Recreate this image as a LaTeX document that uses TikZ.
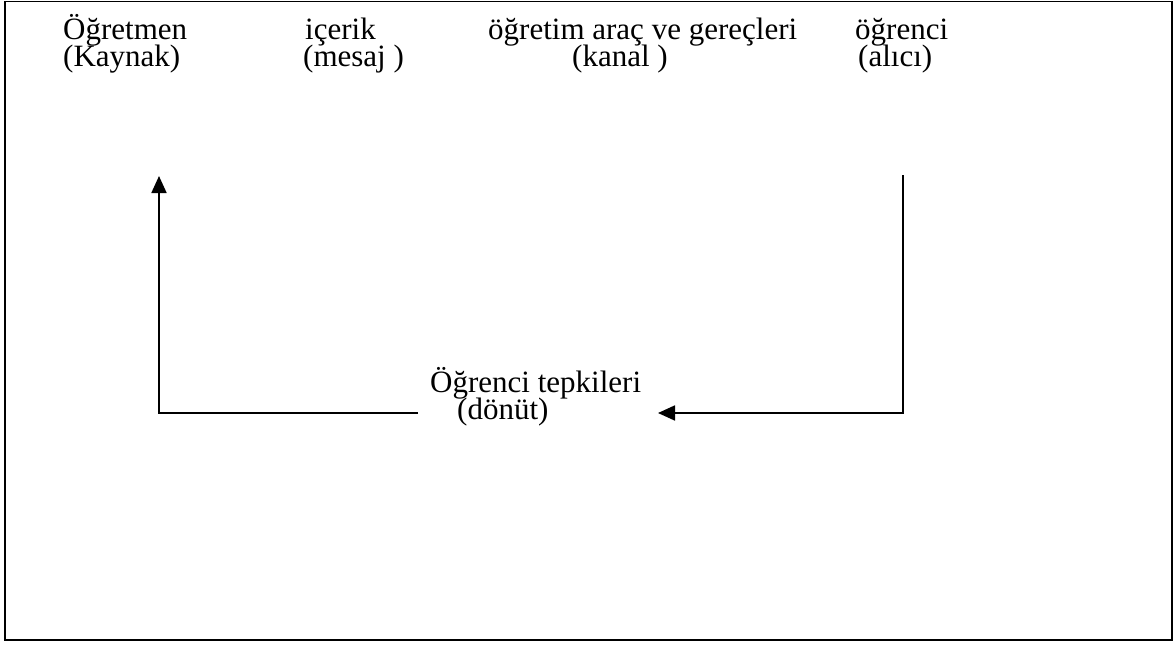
\documentclass[tikz,border=0pt]{standalone}
\usepackage{fontspec}
\setmainfont{Liberation Serif}
\usetikzlibrary{arrows.meta}
\tikzset{lbl/.style={anchor=base west,inner sep=0pt,font=\fontsize{31}{27}\selectfont},
  fline/.style={line width=1.8pt}}
\begin{document}
\begin{tikzpicture}[x=1pt,y=-1pt]
  \useasboundingbox (0,0) rectangle (1176,645);
  \draw[line width=1.6pt] (5,1.5) rectangle (1172,640);

  % top row
  \node[lbl] (src)  at (63,39) {Öğretmen};
  \node[lbl] (srcb) at (63,66) {(Kaynak)};
  \node[lbl] (msg)  at (305,39) {içerik};
  \node[lbl] (msgb) at (303,66) {(mesaj )};
  \node[lbl] (chn)  at (488,39) {öğretim araç ve gereçleri};
  \node[lbl] (chnb) at (572,66) {(kanal )};
  \node[lbl] (rcv)  at (855,39) {öğrenci};
  \node[lbl] (rcvb) at (858,66) {(alıcı)};

  % feedback
  \node[lbl] (fb)  at (430,392) {Öğrenci tepkileri};
  \node[lbl] (fbb) at (457,419) {(dönüt)};

  \coordinate (lbeg) at (418,413);
  \coordinate (lcor) at (159,413);
  \coordinate (ltop) at (159,176);
  \coordinate (rtop) at (903,175);
  \coordinate (rcor) at (903,413);
  \coordinate (rend) at (658,413);

  \draw[fline,-{Triangle[length=17pt,width=15pt]}] (lbeg) -- (lcor) -- (ltop);
  \draw[fline,-{Triangle[length=17pt,width=15pt]}] (rtop) -- (rcor) -- (rend);
\end{tikzpicture}
\end{document}
